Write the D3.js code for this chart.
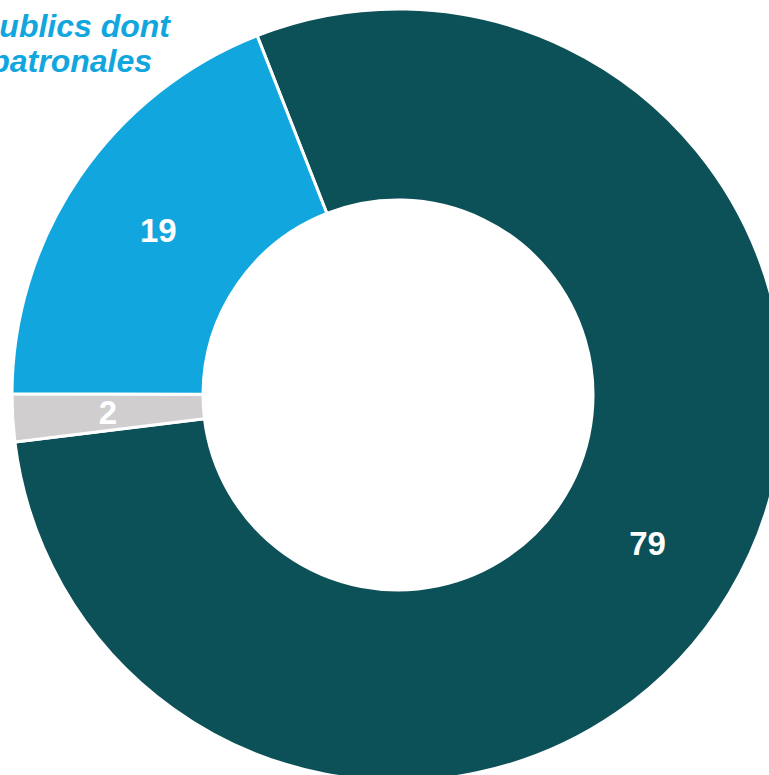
<!DOCTYPE html>
<html><head><meta charset="utf-8">
<script src="https://cdn.jsdelivr.net/npm/d3@7/dist/d3.min.js"></script>
<style>html,body{margin:0;padding:0;background:#fff;overflow:hidden}</style>
</head><body>
<svg id="c" width="769" height="775"></svg>
<script>
const categories = ["Dark", "Gris", "Prélèvements publics dont cotisations patronales"];
const values = [79, 2, 19];
const labels = ["79", "2", "19"];
const colors = ["#0d5158", "#d0cecf", "#11a6de"];
const legendLines = ["publics dont", "patronales"];

const svg = d3.select("#c");
const cx = 398, cy = 395, R = 386, r = 195;
const start = -21.4 * Math.PI / 180;
const pie = d3.pie().sort(null).value(d => d).startAngle(start).endAngle(start + 2 * Math.PI);
const arcs = pie(values);
const arc = d3.arc().innerRadius(r).outerRadius(R);
const g = svg.append("g").attr("transform", `translate(${cx},${cy})`);
g.selectAll("path").data(arcs).join("path")
  .attr("d", arc).attr("fill", (d, i) => colors[i])
  .attr("stroke", "#fff").attr("stroke-width", 3).attr("stroke-linejoin", "miter");
g.selectAll("text").data(arcs).join("text")
  .attr("x", d => arc.centroid(d)[0]).attr("y", d => arc.centroid(d)[1])
  .attr("text-anchor", "middle").attr("dominant-baseline", "central")
  .attr("font-family", "Liberation Sans, Arial, sans-serif").attr("font-weight", "bold")
  .attr("font-size", 33).attr("fill", "#fff")
  .text((d, i) => labels[i]);
const lg = svg.append("g");
lg.append("text").attr("x", 170).attr("y", 37).attr("text-anchor", "end")
  .attr("font-family", "Liberation Sans, Arial, sans-serif").attr("font-weight", "bold").attr("font-style", "italic")
  .attr("font-size", 32).attr("fill", "#11a6de").text(legendLines[0]);
lg.append("text").attr("x", 152).attr("y", 72).attr("text-anchor", "end")
  .attr("font-family", "Liberation Sans, Arial, sans-serif").attr("font-weight", "bold").attr("font-style", "italic")
  .attr("font-size", 32).attr("fill", "#11a6de").text(legendLines[1]);
</script>
</body></html>
